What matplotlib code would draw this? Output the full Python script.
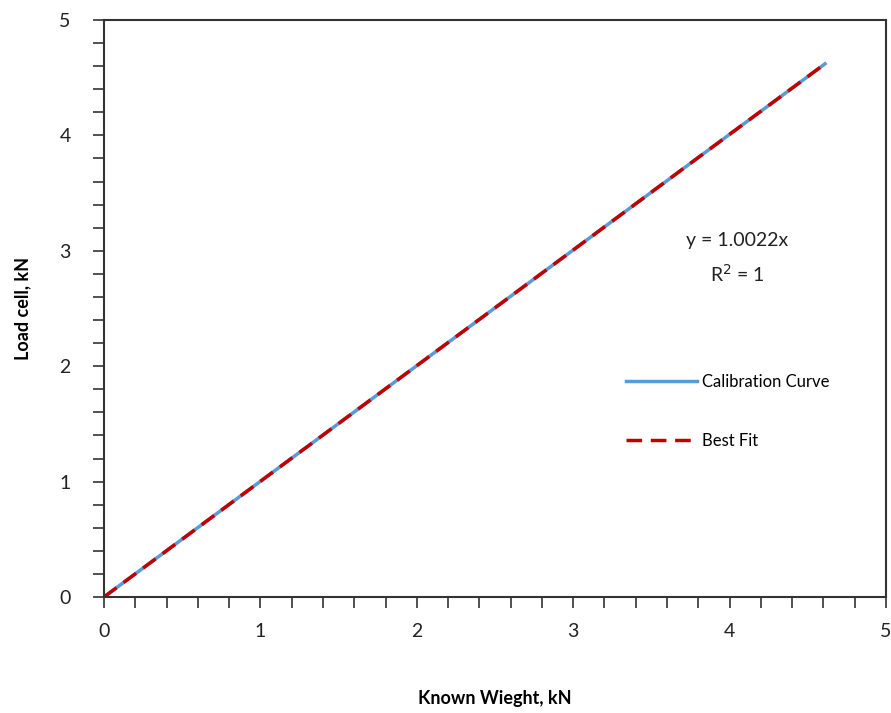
import numpy as np
import matplotlib.pyplot as plt
from matplotlib.ticker import MultipleLocator

# calibration readings (kN)
known_weight = [0.0, 0.46, 0.92, 1.38, 1.84, 2.30, 2.77, 3.23, 3.69, 4.15, 4.61]
load_cell    = [0.0, 0.461, 0.922, 1.383, 1.844, 2.305, 2.776, 3.237, 3.698, 4.159, 4.620]
slope = 1.0022
fit_x = [0.0, 4.61]

plt.rcParams['font.family'] = ['Lato', 'DejaVu Sans']

fig = plt.figure(figsize=(8.91, 7.13), dpi=100)
ax = fig.add_axes([0.1167, 0.1627, 0.8777, 0.8093])

ax.plot(known_weight, load_cell, color='#5b9bd5', linewidth=2.5, label='Calibration Curve')
ax.plot(fit_x, [slope * x for x in fit_x], color='#c00000', linewidth=2.5,
        linestyle=(0, (4.5, 2.5)), label='Best Fit')

ax.set_xlim(0, 5)
ax.set_ylim(0, 5)
ax.xaxis.set_major_locator(MultipleLocator(1))
ax.yaxis.set_major_locator(MultipleLocator(1))
ax.xaxis.set_minor_locator(MultipleLocator(0.2))
ax.yaxis.set_minor_locator(MultipleLocator(0.2))
ax.tick_params(which='both', direction='out', length=8, width=1.2, color='#333333')
ax.tick_params(axis='x', which='major', labelsize=14, pad=11, labelcolor='#222222')
ax.tick_params(axis='y', which='major', labelsize=14, pad=16, labelcolor='#222222')
for s in ax.spines.values():
    s.set_linewidth(1.5)
    s.set_color('#333333')

ax.set_xlabel('Known Wieght, kN', fontsize=13, fontweight='bold', labelpad=36)
ax.set_ylabel('Load cell, kN', fontsize=13, fontweight='bold', labelpad=20)

ax.text(4.05, 3.09, 'y = 1.0022x', fontsize=14, ha='center', va='center', color='#222222')
ax.text(4.05, 2.8, 'R$^2$ = 1', fontsize=14, ha='center', va='center', color='#222222')

ax.legend(loc='upper left', bbox_to_anchor=(0.648, 0.413), frameon=False, fontsize=12,
          labelspacing=2.6, handlelength=4.3, handletextpad=0.3)

fig.savefig('out.png', dpi=100)
